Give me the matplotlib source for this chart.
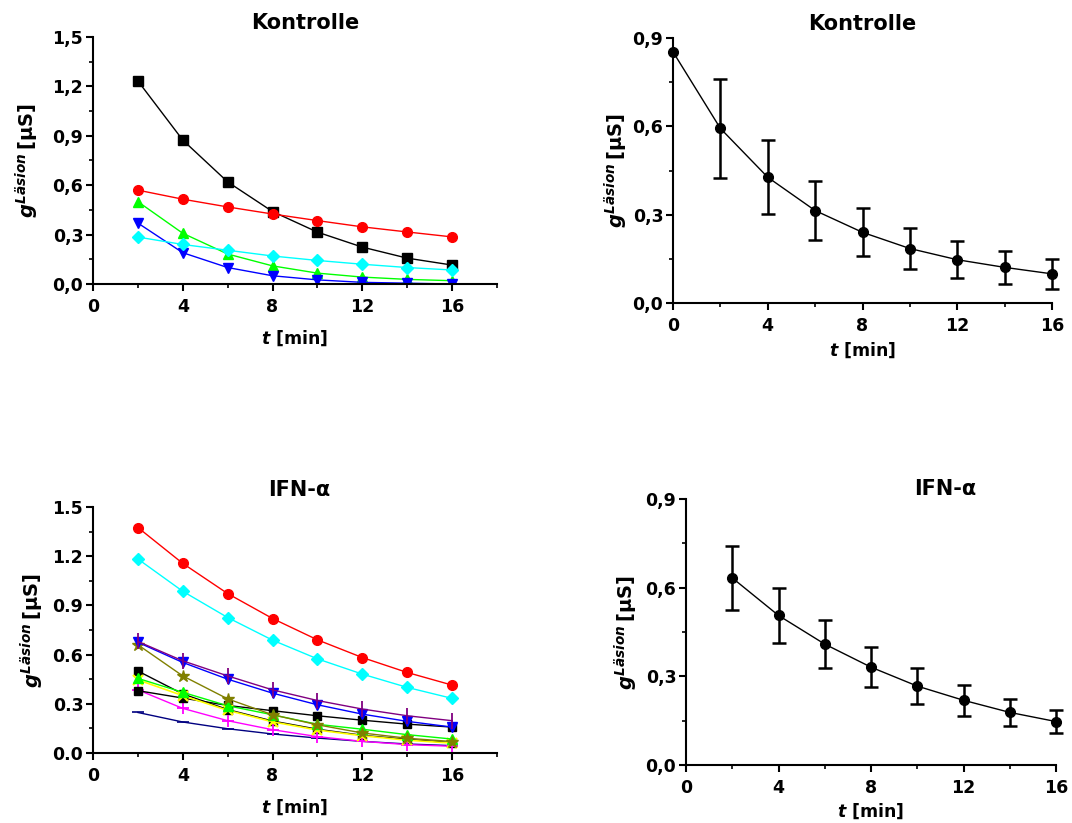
import matplotlib.pyplot as plt
from matplotlib.ticker import MultipleLocator, FixedLocator, FixedFormatter

plt.rcParams['font.family'] = ['DejaVu Sans']
plt.rcParams['font.weight'] = 'bold'
plt.rcParams['mathtext.fontset'] = 'custom'
plt.rcParams['mathtext.it'] = 'DejaVu Sans:italic:bold'
plt.rcParams['mathtext.sf'] = 'DejaVu Sans:italic'
plt.rcParams['mathtext.rm'] = 'DejaVu Sans:bold'

# time points
t_all = [2, 4, 6, 8, 10, 12, 14, 16]
t_mean_ctrl = [0, 2, 4, 6, 8, 10, 12, 14, 16]

# Kontrolle, single cells
ctrl_black = [1.233, 0.874, 0.62, 0.44, 0.315, 0.224, 0.157, 0.115]
ctrl_red = [0.57, 0.515, 0.468, 0.425, 0.385, 0.347, 0.316, 0.286]
ctrl_green = [0.50, 0.308, 0.182, 0.11, 0.066, 0.042, 0.028, 0.02]
ctrl_blue = [0.37, 0.19, 0.10, 0.05, 0.025, 0.01, 0.005, 0.0]
ctrl_cyan = [0.285, 0.24, 0.205, 0.17, 0.143, 0.12, 0.10, 0.085]

# IFN-alpha, single cells
ifn_red = [1.375, 1.156, 0.972, 0.82, 0.69, 0.582, 0.491, 0.414]
ifn_cyan = [1.183, 0.986, 0.826, 0.688, 0.574, 0.481, 0.40, 0.333]
ifn_purple = [0.68, 0.562, 0.47, 0.385, 0.32, 0.268, 0.227, 0.197]
ifn_blue = [0.675, 0.552, 0.45, 0.365, 0.294, 0.237, 0.193, 0.158]
ifn_olive = [0.66, 0.47, 0.33, 0.233, 0.172, 0.122, 0.09, 0.07]
ifn_black_a = [0.50, 0.36, 0.265, 0.195, 0.145, 0.108, 0.083, 0.063]
ifn_green = [0.455, 0.37, 0.288, 0.233, 0.175, 0.145, 0.112, 0.085]
ifn_yellow = [0.446, 0.35, 0.26, 0.19, 0.14, 0.105, 0.078, 0.06]
ifn_black_b = [0.38, 0.335, 0.29, 0.258, 0.227, 0.20, 0.176, 0.158]
ifn_magenta = [0.385, 0.272, 0.197, 0.142, 0.10, 0.071, 0.051, 0.041]
ifn_navy = [0.247, 0.189, 0.148, 0.116, 0.091, 0.071, 0.055, 0.045]

# means with error (no error bar at t=0 for Kontrolle)
ctrl_mean = [0.853, 0.593, 0.427, 0.314, 0.24, 0.185, 0.147, 0.121, 0.099]
ctrl_err = [0.168, 0.125, 0.10, 0.082, 0.07, 0.062, 0.057, 0.052]
ifn_mean = [0.633, 0.506, 0.409, 0.331, 0.267, 0.219, 0.178, 0.147]
ifn_err = [0.107, 0.094, 0.08, 0.068, 0.061, 0.052, 0.045, 0.039]

W, H = 1072, 823
fig = plt.figure(figsize=(W / 100, H / 100), dpi=100)


def px_axes(x0, x1, y0, y1):
    # x0/x1 = left/right pixel, y0 = bottom pixel, y1 = top pixel
    return fig.add_axes([x0 / W, 1 - y0 / H, (x1 - x0) / W, (y0 - y1) / H])


def style(ax, xmax, ymax, ylabels, xpad, ypad):
    ax.spines['top'].set_visible(False)
    ax.spines['right'].set_visible(False)
    for s in ('left', 'bottom'):
        ax.spines[s].set_linewidth(1.5)
    ax.set_xlim(0, xmax)
    ax.set_ylim(0, ymax)
    ax.xaxis.set_major_locator(FixedLocator([0, 4, 8, 12, 16]))
    ax.xaxis.set_minor_locator(MultipleLocator(2))
    yt = [i * 0.3 for i in range(len(ylabels))]
    ax.yaxis.set_major_locator(FixedLocator(yt))
    ax.yaxis.set_major_formatter(FixedFormatter(ylabels))
    ax.yaxis.set_minor_locator(MultipleLocator(0.15))
    ax.tick_params(which='major', direction='out', length=5, width=1.5, labelsize=12.5)
    ax.tick_params(axis='x', which='major', pad=5)
    ax.tick_params(axis='y', which='major', pad=2)
    ax.tick_params(which='minor', direction='out', length=3, width=1.2)
    for lab in ax.get_xticklabels() + ax.get_yticklabels():
        lab.set_fontweight('bold')
    ax.set_xlabel(r'$\mathit{t}$ [min]', fontsize=12.5, fontweight='bold', labelpad=xpad)
    ax.set_ylabel(r'$\mathit{g}^{\mathsf{Läsion}}\,$[µS]', fontsize=14, fontweight='bold', labelpad=ypad)


# top left
ax1 = px_axes(93, 497, 284, 37)
ms = 6.5
ax1.plot(t_all, ctrl_black, '-s', color='black', ms=ms, lw=1)
ax1.plot(t_all, ctrl_red, '-o', color='#ff0000', ms=ms + 0.5, lw=1)
ax1.plot(t_all, ctrl_green, '-^', color='#00ff00', ms=ms + 0.5, lw=1)
ax1.plot(t_all, ctrl_blue, '-v', color='#0000ff', ms=ms + 0.5, lw=1)
ax1.plot(t_all, ctrl_cyan, '-D', color='#00ffff', ms=ms - 0.5, lw=1)
style(ax1, 18, 1.5, ['0,0', '0,3', '0,6', '0,9', '1,2', '1,5'], 9, 8)
ax1.set_title('Kontrolle', fontsize=15, fontweight='bold', x=0.525, pad=6)

# bottom left
ax3 = px_axes(93, 497, 753, 507)
ax3.plot(t_all, ifn_navy, '-_', color='#000080', ms=9, mew=1.2, lw=1)
ax3.plot(t_all, ifn_magenta, '-+', color='#ff00ff', ms=9, mew=1.3, lw=1)
ax3.plot(t_all, ifn_black_b, '-s', color='black', ms=5.5, lw=1)
ax3.plot(t_all, ifn_yellow, '-x', color='#ffff00', ms=7, mew=1.6, lw=1.2)
ax3.plot(t_all, ifn_green, '-^', color='#00ff00', ms=7, lw=1)
ax3.plot(t_all, ifn_black_a, '-s', color='black', ms=6, lw=1, zorder=1.9)
ax3.plot(t_all, ifn_olive, '-*', color='#808000', ms=9, lw=1)
ax3.plot(t_all, ifn_blue, '-v', color='#0000ff', ms=7, lw=1)
ax3.plot(t_all, ifn_purple, '-|', color='#800080', ms=11, mew=1.3, lw=1)
ax3.plot(t_all, ifn_cyan, '-D', color='#00ffff', ms=6, lw=1)
ax3.plot(t_all, ifn_red, '-o', color='#ff0000', ms=7, lw=1)
style(ax3, 18, 1.5, ['0.0', '0.3', '0.6', '0.9', '1.2', '1.5'], 9, 5)
ax3.set_title('IFN-α', fontsize=15, fontweight='bold', x=0.51, pad=8)

# top right
ax2 = px_axes(673, 1052, 303, 38)
ax2.plot(t_mean_ctrl, ctrl_mean, '-o', color='black', ms=7, lw=1, clip_on=False)
ax2.errorbar(t_mean_ctrl[1:], ctrl_mean[1:], yerr=ctrl_err, fmt='none', ecolor='black',
             elinewidth=1.8, capsize=5, capthick=1.8, clip_on=False)
style(ax2, 16, 0.9, ['0,0', '0,3', '0,6', '0,9'], 4, 2)
ax2.set_title('Kontrolle', fontsize=15, fontweight='bold', pad=6)

# bottom right
ax4 = px_axes(686, 1056, 765, 499)
ax4.errorbar(t_all, ifn_mean, yerr=ifn_err, fmt='-o', color='black',
             ms=7, lw=1, elinewidth=1.8, capsize=5, capthick=1.8, clip_on=False)
style(ax4, 16, 0.9, ['0,0', '0,3', '0,6', '0,9'], 3, 4)
ax4.set_title('IFN-α', fontsize=15, fontweight='bold', x=0.7, pad=0)

fig.savefig('out.png', dpi=100)
